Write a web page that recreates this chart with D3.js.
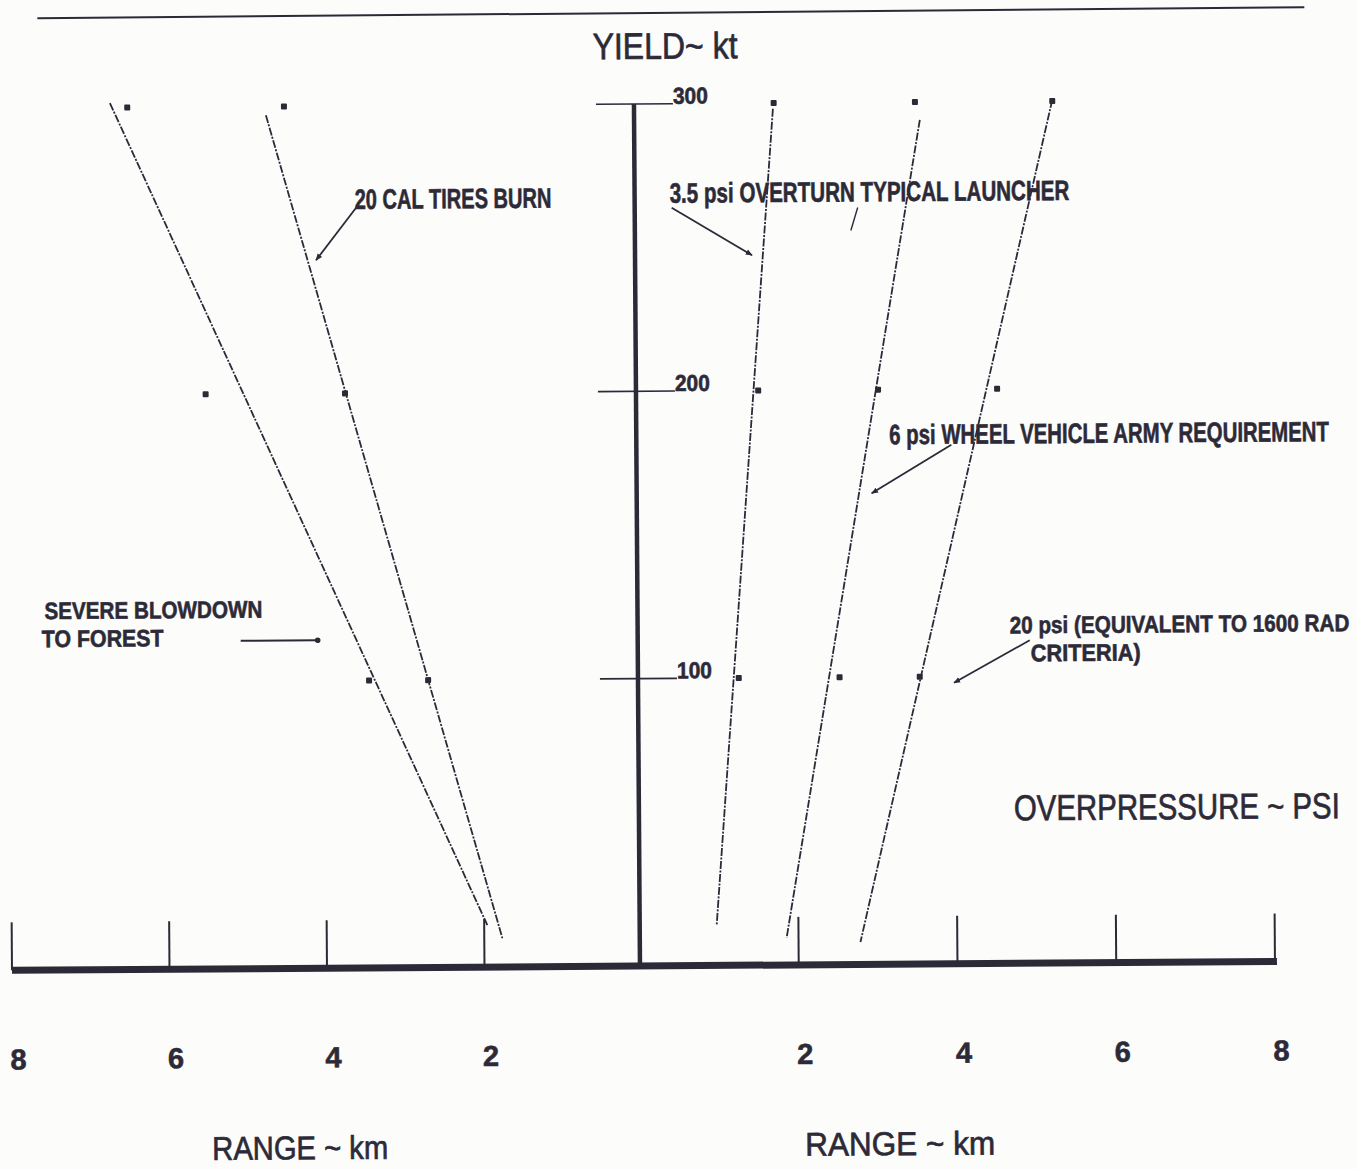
<!DOCTYPE html>
<html>
<head>
  <meta charset="utf-8">
  <title>Yield vs Range</title>
  <script src="https://d3js.org/d3.v7.min.js"></script>
  <style>
    body { margin: 0; background: #fcfcfb; }
    .canvas { background-color: #fcfcfb; }
    text { font-family: "Liberation Sans", Arial, Helvetica, sans-serif; fill: #2d2a38; stroke: #2d2a38; stroke-width: 0.7; }
    .bold { font-family: "Liberation Sans Narrow", "Liberation Sans", Arial, sans-serif; font-weight: bold; stroke-width: 0.6; }
    .fit { fill: none; stroke: #2d2a38; stroke-width: 1.8; stroke-dasharray: 8,1.5,2,1.5; }
    .pt { fill: #2d2a38; }
    .ax { stroke: #2d2a38; }
  </style>
</head>
<body>
<script>
  // Data: yield (kt) at which each range (km) was read
  var yields = [300, 200, 100];
  var blowdownKm = [6.46, 5.49, 3.44];   // left, outer
  var tiresKm = [4.47, 3.72, 2.69];      // left, inner
  var overturnKm = [1.76, 1.54, 1.27];   // right
  var wheelKm = [3.54, 3.05, 2.54];      // right
  var radKm = [5.27, 4.55, 3.55];        // right

  // dashed fit lines: [yield, km] top and bottom
  var blowdownFit = [[301.6, 6.68], [14.6, 1.96]];
  var tiresFit = [[297, 4.70], [10, 1.77]];
  var overturnFit = [[298, 1.75], [14, 0.97]];
  var wheelFit = [[293.8, 3.60], [9.4, 1.85]];
  var radFit = [[300.4, 5.27], [7.8, 2.78]];

  var yieldTicks = [100, 200, 300];
  var rangeTicks = [2, 4, 6, 8];

  // Consts
  var width = 1357;
  var height = 1169;
  var ink = "#2d2a38";

  var svg = d3.select("body")
              .append("svg")
              .attr("width", width)
              .attr("height", height)
              .attr("class", "canvas");
  svg.append("rect").attr("width", width).attr("height", height).attr("fill", "#fcfcfb");

  // whole sheet sits a little skewed on the scanner
  var g = svg.append("g").attr("transform", "rotate(-0.4,636,540)");

  // Scales
  var y = d3.scaleLinear().domain([0, 300]).range([966, 104]);
  var xL = d3.scaleLinear().domain([0, 8]).range([639, 9]);
  var xR = d3.scaleLinear().domain([0, 8]).range([637, 1272]);
  var axisX = 637;

  var defs = svg.append("defs");
  defs.append("marker")
      .attr("id", "head")
      .attr("viewBox", "0 0 10 10")
      .attr("refX", 9).attr("refY", 5)
      .attr("markerWidth", 7).attr("markerHeight", 7)
      .attr("markerUnits", "userSpaceOnUse")
      .attr("orient", "auto")
    .append("path")
      .attr("d", "M0,1 L10,5 L0,9 z")
      .attr("fill", ink);

  // top rule
  g.append("line").attr("class", "ax")
   .attr("x1", 41).attr("x2", 1308).attr("y1", 14).attr("y2", 12)
   .attr("stroke-width", 2);

  // yield axis
  g.append("line").attr("class", "ax")
   .attr("x1", axisX).attr("x2", axisX)
   .attr("y1", y(300)).attr("y2", y(0))
   .attr("stroke-width", 4.5);

  g.selectAll(".ytick")
   .data(yieldTicks)
   .enter()
   .append("line")
   .attr("class", "ax")
   .attr("x1", axisX - 38).attr("x2", axisX + 39)
   .attr("y1", function(d) {return y(d);})
   .attr("y2", function(d) {return y(d);})
   .attr("stroke-width", 1.6);

  // squeezed text: scale horizontally so the box matches what is drawn
  function squeeze(sel, x, yy, len) {
    var w = sel.node().getComputedTextLength();
    sel.attr("transform", "translate(" + x + "," + yy + ") scale(" + (len / w) + ",1)");
  }

  yieldTicks.forEach(function(d) {
    var t = g.append("text")
             .attr("class", "bold")
             .attr("font-size", 23)
             .text(d);
    squeeze(t, axisX + 39, y(d), 35);
  });

  // range axis
  g.append("line").attr("class", "ax")
   .attr("x1", xL(8)).attr("x2", xR(8) + 2)
   .attr("y1", y(0)).attr("y2", y(0))
   .attr("stroke-width", 7);

  var ticks = rangeTicks.map(function(d) {return xL(d);})
                .concat(rangeTicks.map(function(d) {return xR(d);}));
  var tickLabels = rangeTicks.concat(rangeTicks);

  g.selectAll(".xtick")
   .data(ticks)
   .enter()
   .append("line")
   .attr("class", "ax")
   .attr("x1", function(d) {return d;})
   .attr("x2", function(d) {return d;})
   .attr("y1", y(0)).attr("y2", y(0) - 48)
   .attr("stroke-width", 2);

  g.selectAll(".xlab")
   .data(ticks)
   .enter()
   .append("text")
   .attr("class", "bold")
   .attr("x", function(d) {return d + 6;})
   .attr("y", 1065)
   .attr("text-anchor", "middle")
   .attr("font-size", 29)
   .text(function(d, i) {return tickLabels[i];});

  // fit lines and points
  var groups = [
    {side: xL, km: blowdownKm, fit: blowdownFit},
    {side: xL, km: tiresKm, fit: tiresFit},
    {side: xR, km: overturnKm, fit: overturnFit},
    {side: xR, km: wheelKm, fit: wheelFit},
    {side: xR, km: radKm, fit: radFit}
  ];

  groups.forEach(function(s) {
    var line = d3.line()
                 .x(function(d) {return s.side(d[1]);})
                 .y(function(d) {return y(d[0]);});
    g.append("path").attr("class", "fit").attr("d", line(s.fit));

    g.selectAll(null)
     .data(s.km)
     .enter()
     .append("rect")
     .attr("class", "pt")
     .attr("x", function(d) {return s.side(d) - 3;})
     .attr("y", function(d, i) {return y(yields[i]) - 3;})
     .attr("width", 6)
     .attr("height", 6)
     .attr("rx", 1);
  });

  // titles
  function label(txt, x, yy, size, len, bold) {
    var t = g.append("text")
             .attr("class", bold ? "bold" : null)
             .attr("font-size", size)
             .text(txt);
    squeeze(t, x, yy, len);
  }
  label("YIELD~ kt", 596, 59, 37, 145, false);
  label("OVERPRESSURE ~ PSI", 1012, 823, 36, 326, false);
  label("RANGE ~ km", 208, 1157, 33, 176, false);
  label("RANGE ~ km", 801, 1157, 33, 190, false);

  // annotations
  label("20 CAL TIRES BURN", 357, 207, 28, 197, true);
  label("3.5  psi OVERTURN TYPICAL LAUNCHER", 672, 203, 28, 400, true);
  label("6 psi WHEEL VEHICLE ARMY REQUIREMENT", 890, 446, 28, 440, true);
  label("20 psi (EQUIVALENT TO 1600 RAD", 1009, 636, 24, 340, true);
  label("CRITERIA)", 1030, 664, 24, 110, true);
  label("SEVERE BLOWDOWN", 44, 615, 24, 218, true);
  label("TO FOREST", 41, 643, 24, 122, true);

  var arrows = [
    [359, 205, 318, 258],
    [674, 208, 754, 256],
    [952, 447, 872, 495],
    [1029, 643, 953, 685]
  ];
  g.selectAll(".arrow")
   .data(arrows)
   .enter()
   .append("line")
   .attr("class", "ax")
   .attr("x1", function(d) {return d[0];})
   .attr("y1", function(d) {return d[1];})
   .attr("x2", function(d) {return d[2];})
   .attr("y2", function(d) {return d[3];})
   .attr("stroke-width", 1.8)
   .attr("marker-end", "url(#head)");

  // blowdown pointer ends in a dot
  g.append("line").attr("class", "ax")
   .attr("x1", 240).attr("x2", 316).attr("y1", 638).attr("y2", 638)
   .attr("stroke-width", 2);
  g.append("circle").attr("cx", 317).attr("cy", 638).attr("r", 2.8).attr("fill", ink);

  // stray pen stroke under TYPICAL
  g.append("line").attr("class", "ax")
   .attr("x1", 860).attr("y1", 209).attr("x2", 853).attr("y2", 232)
   .attr("stroke-width", 1.4);
</script>
</body>
</html>
